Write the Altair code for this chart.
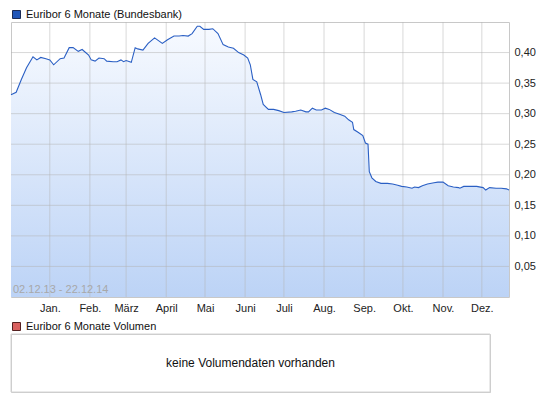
import json
import altair as alt
import pandas as pd

# ---------------- data ----------------
DATES = [
    "2013-12-02", "2013-12-06", "2013-12-10", "2013-12-14", "2013-12-19", "2013-12-22", "2013-12-25", "2013-12-29",
    "2014-01-01", "2014-01-04", "2014-01-09", "2014-01-12", "2014-01-16", "2014-01-19", "2014-01-23", "2014-01-26", "2014-01-31",
    "2014-02-02", "2014-02-05", "2014-02-08", "2014-02-12", "2014-02-14", "2014-02-19", "2014-02-22", "2014-02-25", "2014-02-27",
    "2014-03-01", "2014-03-05", "2014-03-08", "2014-03-10", "2014-03-14", "2014-03-18", "2014-03-23", "2014-03-29",
    "2014-04-02", "2014-04-07", "2014-04-11", "2014-04-14", "2014-04-18", "2014-04-21", "2014-04-25", "2014-04-27", "2014-04-30",
    "2014-05-04", "2014-05-07", "2014-05-11", "2014-05-15", "2014-05-19", "2014-05-23", "2014-05-27", "2014-05-31",
    "2014-06-03", "2014-06-05", "2014-06-07", "2014-06-10", "2014-06-13", "2014-06-15", "2014-06-19", "2014-06-23", "2014-06-27",
    "2014-07-01", "2014-07-07", "2014-07-10", "2014-07-14", "2014-07-18", "2014-07-20", "2014-07-23", "2014-07-26", "2014-07-30",
    "2014-08-02", "2014-08-05", "2014-08-09", "2014-08-13", "2014-08-17", "2014-08-20", "2014-08-23", "2014-08-24", "2014-08-27", "2014-08-31",
    "2014-09-02", "2014-09-04", "2014-09-05", "2014-09-07", "2014-09-10", "2014-09-14", "2014-09-19", "2014-09-23", "2014-09-27", "2014-09-30",
    "2014-10-04", "2014-10-08", "2014-10-10", "2014-10-13", "2014-10-16", "2014-10-20", "2014-10-25", "2014-10-28",
    "2014-11-01", "2014-11-05", "2014-11-09", "2014-11-13", "2014-11-14", "2014-11-17", "2014-11-22", "2014-11-27",
    "2014-12-02", "2014-12-04", "2014-12-07", "2014-12-12", "2014-12-16", "2014-12-20", "2014-12-22",
]
RATES = [
    0.331, 0.335, 0.356, 0.375, 0.393, 0.388, 0.392, 0.390,
    0.388, 0.380, 0.390, 0.391, 0.408, 0.408, 0.402, 0.405, 0.396,
    0.388, 0.386, 0.391, 0.390, 0.386, 0.385, 0.385, 0.388, 0.385,
    0.387, 0.384, 0.408, 0.406, 0.404, 0.415, 0.424, 0.415,
    0.421, 0.427, 0.427, 0.428, 0.427, 0.431, 0.443, 0.443, 0.438,
    0.438, 0.439, 0.431, 0.413, 0.409, 0.407, 0.400, 0.396,
    0.391, 0.380, 0.356, 0.352, 0.331, 0.315, 0.307, 0.307, 0.305,
    0.302, 0.303, 0.304, 0.306, 0.303, 0.303, 0.309, 0.306, 0.306,
    0.309, 0.307, 0.302, 0.299, 0.296, 0.290, 0.286, 0.274, 0.270, 0.264,
    0.252, 0.250, 0.205, 0.195, 0.189, 0.186, 0.186, 0.185, 0.183, 0.181,
    0.180, 0.178, 0.180, 0.179, 0.182, 0.185, 0.187, 0.188,
    0.188, 0.182, 0.180, 0.179, 0.178, 0.181, 0.181, 0.181,
    0.179, 0.175, 0.179, 0.178, 0.178, 0.177, 0.175,
]
MONTH_STARTS = ["2014-01-01", "2014-02-01", "2014-03-01", "2014-04-01", "2014-05-01", "2014-06-01",
                "2014-07-01", "2014-08-01", "2014-09-01", "2014-10-01", "2014-11-01", "2014-12-01"]
MONTH_LABELS = ["Jan.", "Feb.", "März", "April", "Mai", "Juni", "Juli",
                "Aug.", "Sep.", "Okt.", "Nov.", "Dez."]
Y_TICKS = [0.05, 0.10, 0.15, 0.20, 0.25, 0.30, 0.35, 0.40]
SERIES_NAME = "Euribor 6 Monate (Bundesbank)"
VOLUME_NAME = "Euribor 6 Monate Volumen"
RANGE_LABEL = "02.12.13 - 22.12.14"
NO_DATA_TEXT = "keine Volumendaten vorhanden"

FONT = "Liberation Sans"
W_TOP, H_TOP = 498, 275
W_BOT, H_BOT = 479, 58
GRID = "#b4b4b4"

df = pd.DataFrame({"date": pd.to_datetime(DATES), "rate": RATES, "series": SERIES_NAME})
months_df = pd.DataFrame({"date": pd.to_datetime(MONTH_STARTS)})
yticks_df = pd.DataFrame({"rate": Y_TICKS})

month_expr = json.dumps(MONTH_LABELS, ensure_ascii=False) + "[month(datum.value)]"

x_scale = alt.Scale(domain=[alt.DateTime(year=2013, month=12, date=2),
                            alt.DateTime(year=2014, month=12, date=22)], nice=False)
y_scale = alt.Scale(domain=[0, 0.45], nice=False, zero=True)

x_axis = alt.Axis(
    title=None,
    values=[alt.DateTime(year=2014, month=m, date=1) for m in range(1, 13)],
    labelExpr=month_expr,
    grid=False, ticks=False, domain=False, labelPadding=5,
    labelFont=FONT, labelFontSize=11, labelColor="#222",
)
y_axis = alt.Axis(
    title=None, orient="right",
    values=Y_TICKS,
    labelExpr="replace(format(datum.value, '.2f'), '.', ',')",
    grid=False, ticks=False, domain=False, labelPadding=5,
    labelFont=FONT, labelFontSize=11, labelColor="#222",
)
x_enc = alt.X("date:T", scale=x_scale, axis=x_axis)
y_enc = alt.Y("rate:Q", scale=y_scale, axis=y_axis)

gradient = alt.Gradient(
    gradient="linear",
    stops=[alt.GradientStop(color="#f7faff", offset=0),
           alt.GradientStop(color="#bcd3f6", offset=1)],
    x1=1, x2=1, y1=0, y2=1,
)

area = alt.Chart(df).mark_area(color=gradient).encode(x=x_enc, y=y_enc)

vgrid = alt.Chart(months_df).mark_rule(color=GRID, opacity=0.5, strokeWidth=1).encode(x=x_enc)
hgrid = alt.Chart(yticks_df).mark_rule(color=GRID, opacity=0.5, strokeWidth=1).encode(y=y_enc)

line = alt.Chart(df).mark_line(color="#2a5fc4", strokeWidth=1.1).encode(x=x_enc, y=y_enc)

range_text = alt.Chart(pd.DataFrame({"t": [RANGE_LABEL]})).mark_text(
    align="left", baseline="alphabetic", font=FONT, fontSize=11, color="#a8a8a8"
).encode(text="t:N", x=alt.value(2), y=alt.value(H_TOP - 4))

legend_top = alt.Chart(pd.DataFrame({"s": [SERIES_NAME]})).mark_square(
    filled=True, opacity=1, stroke="#1a2a55", strokeWidth=1
).encode(
    color=alt.Color("s:N", scale=alt.Scale(domain=[SERIES_NAME], range=["#1f55b8"]),
                    legend=alt.Legend(orient="none", legendX=0, legendY=-13, title=None,
                                      symbolType="square", symbolSize=64, symbolOpacity=1,
                                      symbolStrokeColor="#1a2a55", symbolStrokeWidth=1,
                                      labelFont=FONT, labelFontSize=11, labelColor="#111",
                                      labelOffset=4, padding=0))
).transform_filter("false")

top = alt.layer(area, vgrid, hgrid, line, range_text, legend_top).properties(
    width=W_TOP, height=H_TOP
)

legend_bot = alt.Chart(pd.DataFrame({"s": [VOLUME_NAME]})).mark_square(
    filled=True, opacity=1, stroke="#552020", strokeWidth=1
).encode(
    color=alt.Color("s:N", scale=alt.Scale(domain=[VOLUME_NAME], range=["#d9605f"]),
                    legend=alt.Legend(orient="none", legendX=0, legendY=-13, title=None,
                                      symbolType="square", symbolSize=64, symbolOpacity=1,
                                      symbolStrokeColor="#552020", symbolStrokeWidth=1,
                                      labelFont=FONT, labelFontSize=11, labelColor="#111",
                                      labelOffset=4, padding=0))
).transform_filter("false")

box = alt.Chart(pd.DataFrame({"t": [NO_DATA_TEXT]})).mark_rect(
    fill=None, fillOpacity=0, stroke="#d4d4d4", strokeWidth=1
).encode(x=alt.value(0), x2=alt.value(W_BOT), y=alt.value(0), y2=alt.value(H_BOT))

msg = alt.Chart(pd.DataFrame({"t": [NO_DATA_TEXT]})).mark_text(
    font=FONT, fontSize=12, color="#111", baseline="middle", align="center"
).encode(text="t:N")

bottom = alt.layer(box, msg, legend_bot).properties(width=W_BOT, height=H_BOT)

chart = alt.vconcat(top, bottom, spacing=6).resolve_scale(
    color="independent"
).resolve_legend(color="independent").properties(
    padding=0
).configure_view(stroke="#c8c8c8", strokeWidth=1)

chart.save("out.html", embed_options={"renderer": "svg", "actions": False})
